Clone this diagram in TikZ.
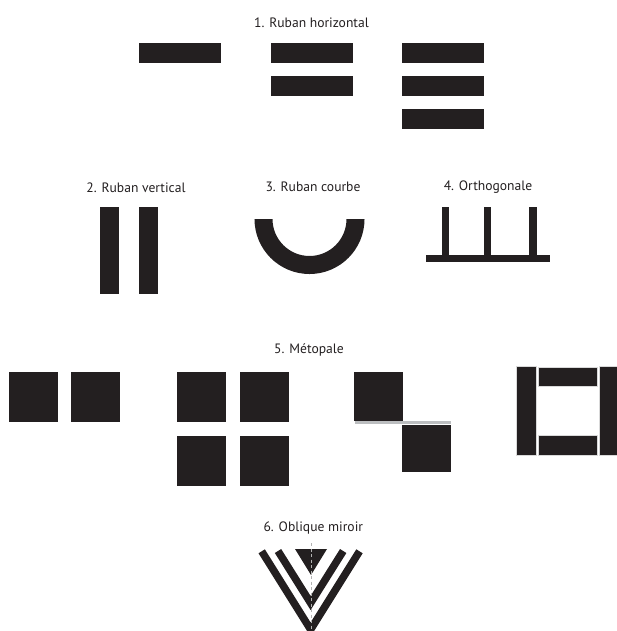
\documentclass[tikz,border=0pt]{standalone}
\usepackage{fontspec}
\setmainfont{PT Sans}
\definecolor{ink}{HTML}{231F20}
\definecolor{lgray}{HTML}{BCBEC0}
\begin{document}
\begin{tikzpicture}[x=1pt,y=-1pt,
  lbl/.style={font=\fontsize{13.6}{15}\selectfont, text=ink, inner sep=0pt},
  blk/.style={fill=ink, draw=none},
  oblk/.style={fill=ink, draw=white!85!black, line width=0.5pt}]
\useasboundingbox (0,0) rectangle (617,631);
% 1
\node[lbl] (l1) at (311.5,23) {1. Ruban horizontal};
\fill[blk] (139,43.3) rectangle (221,63.3);
\fill[blk] (270.7,43.3) rectangle (352.7,63.3);
\fill[blk] (270.7,76.3) rectangle (352.7,96.3);
\fill[blk] (401.7,43.3) rectangle (484,63.3);
\fill[blk] (401.7,76.3) rectangle (484,96.3);
\fill[blk] (401.7,109) rectangle (484,128.7);
% 2
\node[lbl] (l2) at (136,188) {2. Ruban vertical};
\fill[blk] (100,206.7) rectangle (119.3,294.3);
\fill[blk] (139,206.7) rectangle (158.3,294.3);
% 3
\node[lbl] (l3) at (313,187) {3. Ruban courbe};
\begin{scope}
\clip (240,219) rectangle (380,290);
\draw[ink, line width=18pt] (309.5,219) circle[radius=46pt];
\end{scope}
% 4
\node[lbl] (l4) at (488,187) {4. Orthogonale};
\fill[blk] (425.7,255) rectangle (550,261.7);
\fill[blk] (442.3,206.7) rectangle (449.3,258);
\fill[blk] (484,206.7) rectangle (491,258);
\fill[blk] (529.3,206.7) rectangle (536.7,258);
% 5
\node[lbl] (l5) at (309,350) {5. Métopale};
\fill[blk] (9,372) rectangle (58,422);
\fill[blk] (71,372) rectangle (120,422);
\fill[blk] (177,372) rectangle (226,422);
\fill[blk] (240,372) rectangle (289,422);
\fill[blk] (177,436) rectangle (226,486);
\fill[blk] (240,436) rectangle (289,486);
\fill[blk] (354,372) rectangle (402.7,421);
\fill[lgray] (355,421) rectangle (451,424.3);
\fill[blk] (402,425) rectangle (451,471.7);
\filldraw[oblk] (516.7,366.7) rectangle (536.7,455);
\filldraw[oblk] (599,366.7) rectangle (618,455);
\filldraw[oblk] (538.3,367.3) rectangle (597.3,386.7);
\filldraw[oblk] (538.3,435) rectangle (597.3,455);
% 6
\node[lbl] (l6) at (313.3,528) {6. Oblique miroir};
\fill[blk] (295,549) -- (327,549) -- (311,575) -- cycle;
\draw[ink, line width=7.5pt, line join=miter, miter limit=10]
  (261.7,551.3) -- (310.6,629.5) -- (359.5,551.3);
\draw[ink, line width=7.5pt, line join=miter, miter limit=10]
  (278,551) -- (310.6,603) -- (343.2,551);
\draw[white!70!black, line width=0.9pt, dash pattern=on 3pt off 2.5pt]
  (311,543) -- (311,631);
\end{tikzpicture}
\end{document}
